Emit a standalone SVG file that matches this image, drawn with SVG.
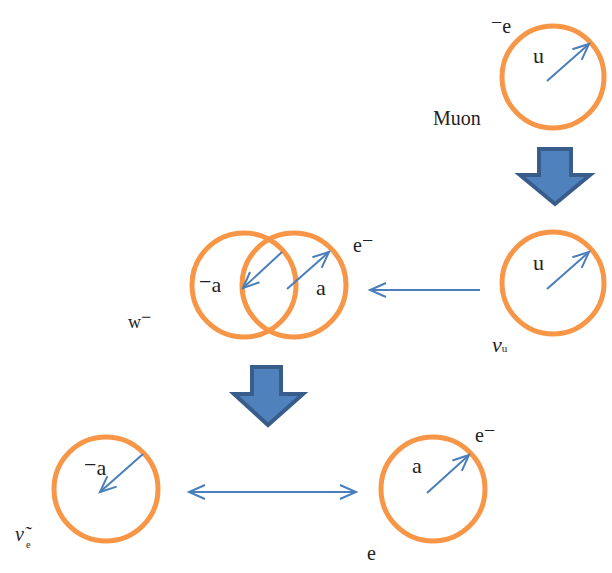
<svg xmlns="http://www.w3.org/2000/svg" width="612" height="573" viewBox="0 0 612 573">
<style>
.c{fill:none;stroke:#F79646;stroke-width:5}
.l{fill:none;stroke:#4A7EBB;stroke-width:2}
.b{fill:#4F81BD;stroke:#385D8A;stroke-width:4;stroke-linejoin:miter}
text{font-family:"Liberation Serif","DejaVu Serif",serif;fill:#222}
.t{font-size:22px}
.s{font-size:20px}
</style>
<defs>
<marker id="ah" markerUnits="userSpaceOnUse" markerWidth="24" markerHeight="20" viewBox="-20 -10 24 20" refX="0" refY="0" orient="auto-start-reverse">
<path d="M-16,-7 L0,0 L-16,7" fill="none" stroke="#4A7EBB" stroke-width="2"/>
</marker>
</defs>
<rect width="612" height="573" fill="#fff"/>
<g id="muon">
<circle class="c" cx="553" cy="77" r="51"/>
<line class="l" x1="547" y1="81" x2="589" y2="44" marker-end="url(#ah)"/>
<text class="t" x="533" y="63">u</text>
<text class="s" x="491" y="33"><tspan dy="-4">−</tspan><tspan dy="4">e</tspan></text>
<text class="s" x="433" y="125">Muon</text>
</g>
<g id="nu-mu">
<circle class="c" cx="553" cy="283" r="51"/>
<line class="l" x1="547" y1="289" x2="589" y2="252" marker-end="url(#ah)"/>
<text class="t" x="533" y="270">u</text>
<text x="492" y="352"><tspan font-size="22" font-style="italic">ν</tspan><tspan font-size="11">u</tspan></text>
</g>
<g id="w-boson">
<circle class="c" cx="244" cy="285" r="52"/>
<circle class="c" cx="294" cy="285" r="52"/>
<line class="l" x1="282" y1="252" x2="243" y2="288" marker-end="url(#ah)"/>
<line class="l" x1="287" y1="289" x2="329" y2="252" marker-end="url(#ah)"/>
<text class="t" x="199" y="292"><tspan dy="-3">−</tspan><tspan dy="3">a</tspan></text>
<text class="t" x="316" y="295">a</text>
<text class="s" x="353" y="252">e<tspan dy="-5">−</tspan></text>
<text font-size="18" x="128" y="328">w<tspan dy="-5">−</tspan></text>
</g>
<g id="anti-nu-e">
<circle class="c" cx="106" cy="489" r="52"/>
<line class="l" x1="143" y1="454" x2="100" y2="492" marker-end="url(#ah)"/>
<text class="t" x="84" y="475"><tspan dy="-3">−</tspan><tspan dy="3">a</tspan></text>
<text x="15" y="541" font-family="DejaVu Serif, serif" font-size="20" font-style="italic">ν̃</text>
<text font-size="10" x="26" y="548">e</text>
</g>
<g id="electron">
<circle class="c" cx="433" cy="489" r="52"/>
<line class="l" x1="427" y1="493" x2="469" y2="455" marker-end="url(#ah)"/>
<text class="t" x="412" y="473">a</text>
<text class="s" x="475" y="442">e<tspan dy="-5">−</tspan></text>
<text class="s" x="367" y="560">e</text>
</g>
<g id="connectors">
<polygon class="b" points="539,149 571,149 571,175 590,175 555,204 520,175 539,175"/>
<polygon class="b" points="252,367 281,367 281,394 303,394 268,425 234,394 252,394"/>
<line class="l" x1="480" y1="290" x2="370" y2="290" marker-end="url(#ah)"/>
<line class="l" x1="189" y1="492" x2="356" y2="492" marker-start="url(#ah)" marker-end="url(#ah)"/>
</g>
</svg>
